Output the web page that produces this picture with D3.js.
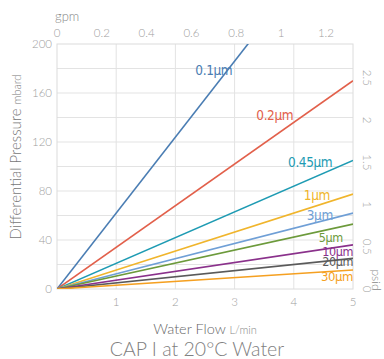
<!DOCTYPE html>
<html>
<head>
<meta charset="utf-8">
<script src="https://cdn.jsdelivr.net/npm/d3@7/dist/d3.min.js"></script>
<style>
  body { margin: 0; background: #fff; }
  svg text { font-family: Lato, "Open Sans", sans-serif; }
</style>
</head>
<body>
<div id="vis"></div>
<script>
// pressure drop (mbar) at 5 L/min for each rating, lines run through origin
var ratings = ["0.1\u00b5m", "0.2\u00b5m", "0.45\u00b5m", "1\u00b5m", "3\u00b5m", "5\u00b5m", "10\u00b5m", "20\u00b5m", "30\u00b5m"];
var dpAt5 = [310, 170, 105, 77.5, 62, 53, 36, 25, 15.5];
var colors = ["#4a7db3", "#e2604b", "#1e9bb3", "#f0b52c", "#6f9fd6", "#6c9a3b", "#8a318b", "#5a5a5a", "#f5a021"];
var flowTicks = [1, 2, 3, 4, 5];
var gpmTicks = [0, 0.2, 0.4, 0.6, 0.8, 1, 1.2];
var mbarTicks = [0, 40, 80, 120, 160, 200];
var psiTicks = [0, 0.5, 1, 1.5, 2, 2.5];
// label anchor points (right edge in L/min, baseline in mbar)
var labelPos = [[2.96, 175], [3.99, 138], [4.65, 100], [4.61, 73], [4.66, 56], [4.83, 38.5], [5.0, 27], [5.0, 18.5], [5.0, 6.5]];
var labelSize = [13.5, 13.5, 13.5, 13.5, 13.5, 12.5, 12.5, 12.5, 13];

var width = 384, height = 359;
var margin = { top: 44, left: 57, right: 31, bottom: 70 };
var w = width - margin.left - margin.right;
var h = height - margin.top - margin.bottom;

var svg = d3.select("#vis").append("svg")
    .attr("width", width)
    .attr("height", height);

var g = svg.append("g")
    .attr("transform", "translate(" + margin.left + "," + margin.top + ")");

var x = d3.scaleLinear().domain([0, 5]).range([0, w]);
var y = d3.scaleLinear().domain([0, 200]).range([h, 0]);
var xGpm = d3.scaleLinear().domain([0, 5 / 3.78541]).range([0, w]);
var yPsi = d3.scaleLinear().domain([0, 200 / 68.9476]).range([h, 0]);

// grid
g.selectAll(".hgrid")
    .data(d3.range(20, 200, 20))
    .enter().append("line")
    .attr("x1", 0).attr("x2", w)
    .attr("y1", function(d) { return y(d); })
    .attr("y2", function(d) { return y(d); })
    .attr("stroke", "#e3e3e3").attr("stroke-width", 1);

g.selectAll(".vgrid")
    .data([1, 2, 3, 4])
    .enter().append("line")
    .attr("y1", 0).attr("y2", h)
    .attr("x1", function(d) { return x(d); })
    .attr("x2", function(d) { return x(d); })
    .attr("stroke", "#e3e3e3").attr("stroke-width", 1);

g.append("rect")
    .attr("width", w).attr("height", h)
    .attr("fill", "none").attr("stroke", "#dcdcdc");

// lines
g.append("clipPath").attr("id", "clip")
    .append("rect").attr("width", w).attr("height", h);

var line = d3.line()
    .x(function(d) { return x(d[0]); })
    .y(function(d) { return y(d[1]); });

g.append("g").attr("clip-path", "url(#clip)")
    .selectAll("path")
    .data(dpAt5)
    .enter().append("path")
    .attr("d", function(d) { return line([[0, 0], [5, d]]); })
    .attr("fill", "none")
    .attr("stroke", function(d, i) { return colors[i]; })
    .attr("stroke-width", 1.6);

g.selectAll(".lbl")
    .data(ratings)
    .enter().append("text")
    .attr("x", function(d, i) { return x(labelPos[i][0]); })
    .attr("y", function(d, i) { return y(labelPos[i][1]); })
    .attr("text-anchor", "end")
    .attr("fill", function(d, i) { return colors[i]; })
    .style("font-family", "'DejaVu Sans Condensed', 'Liberation Sans Narrow', sans-serif")
    .style("font-size", function(d, i) { return labelSize[i] + "px"; })
    .style("letter-spacing", "-0.4px")
    .text(function(d) { return d; });

// tick labels
var tickStyle = function(sel) {
    sel.attr("fill", "#a0a0a0").style("font-size", "11.5px").style("font-weight", "300");
};

g.selectAll(".ly")
    .data(mbarTicks)
    .enter().append("text")
    .attr("x", -5)
    .attr("y", function(d) { return y(d) + 4; })
    .attr("text-anchor", "end")
    .call(tickStyle)
    .text(function(d) { return d; });

g.selectAll(".bx")
    .data(flowTicks)
    .enter().append("text")
    .attr("x", function(d) { return x(d); })
    .attr("y", h + 17)
    .attr("text-anchor", "middle")
    .call(tickStyle)
    .text(function(d) { return d; });

g.selectAll(".tx")
    .data(gpmTicks)
    .enter().append("text")
    .attr("x", function(d) { return xGpm(d); })
    .attr("y", -7)
    .attr("text-anchor", "middle")
    .call(tickStyle)
    .text(function(d) { return d; });

g.selectAll(".ry")
    .data(psiTicks)
    .enter().append("text")
    .attr("transform", function(d) { return "translate(" + (w + 10) + "," + yPsi(d) + ") rotate(90)"; })
    .attr("text-anchor", "middle")
    .call(tickStyle)
    .text(function(d) { return d; });

// axis titles
svg.append("text")
    .attr("x", 55).attr("y", 21)
    .attr("fill", "#888").style("font-size", "13px").style("font-weight", "300")
    .text("gpm");

svg.append("text")
    .attr("transform", "translate(372," + (margin.top + h - 9) + ") rotate(90)")
    .attr("text-anchor", "middle")
    .attr("fill", "#888").style("font-size", "12px").style("font-weight", "300")
    .text("psid");

var yt = svg.append("text")
    .attr("transform", "translate(21,157) rotate(-90)")
    .attr("text-anchor", "middle")
    .attr("fill", "#777").style("font-weight", "300");
yt.append("tspan").style("font-size", "15px").text("Differential Pressure ");
yt.append("tspan").style("font-size", "11px").text("mbard");

var xt = svg.append("text")
    .attr("x", 205).attr("y", 334)
    .attr("text-anchor", "middle")
    .attr("fill", "#666").style("font-weight", "300");
xt.append("tspan").style("font-size", "14.5px").text("Water Flow ");
xt.append("tspan").style("font-size", "11px").attr("fill", "#888").text("L/min");

svg.append("text")
    .attr("x", 197).attr("y", 356)
    .attr("text-anchor", "middle")
    .attr("fill", "#808080").style("font-size", "19.5px").style("font-weight", "300")
    .text("CAP I at 20\u00b0C Water");
</script>
</body>
</html>
